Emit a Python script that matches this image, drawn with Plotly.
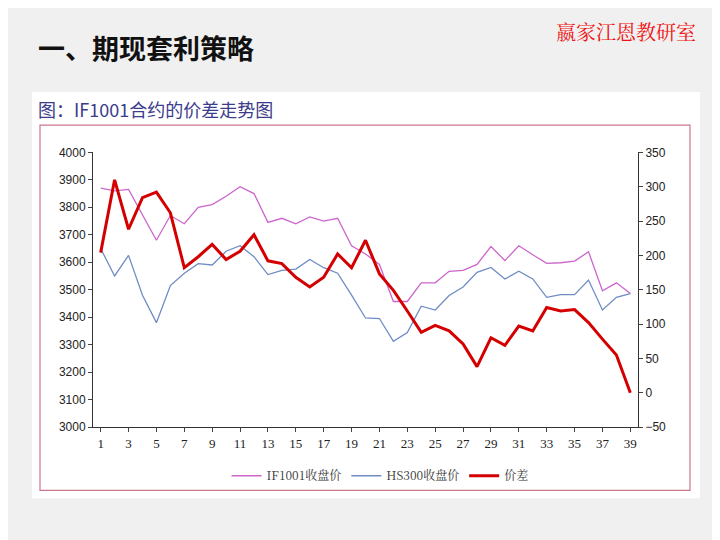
import plotly.graph_objects as go

days = list(range(1, 40))
if1001 = [3870, 3860, 3865, 3770, 3680, 3770, 3740, 3800, 3810, 3840, 3875, 3850, 3745,
          3760, 3740, 3765, 3750, 3760, 3660, 3630, 3592, 3457, 3457, 3525, 3525, 3567,
          3570, 3592, 3657, 3606, 3660, 3627, 3596, 3598, 3604, 3638, 3496, 3525, 3486]
hs300 = [3650, 3550, 3625, 3480, 3380, 3515, 3560, 3595, 3590, 3640, 3660, 3620, 3555,
         3570, 3575, 3610, 3580, 3560, 3480, 3397, 3395, 3312, 3344, 3440, 3426, 3479,
         3510, 3563, 3581, 3539, 3567, 3539, 3472, 3482, 3482, 3535, 3426, 3472, 3486]
spread = [204, 310, 238, 284, 292, 262, 182, 198, 216, 194, 206, 230, 192, 188, 168, 154,
          168, 202, 182, 222, 173, 149, 119, 88, 98, 90, 71, 38, 80, 69, 97, 90, 124, 119,
          121, 102, 78, 55, 0]

W, H = 720, 540
# page body has an 8px margin, so shift everything up/left
def px(x): return (x - 8) / W
def py(y): return 1 - (y - 9) / H

fig = go.Figure()
fig.add_trace(go.Scatter(x=days, y=if1001, mode='lines', name='IF1001收盘价',
                         line=dict(color='#cc66cc', width=1.3)))
fig.add_trace(go.Scatter(x=days, y=hs300, mode='lines', name='HS300收盘价',
                         line=dict(color='#6f8cc4', width=1.3)))
fig.add_trace(go.Scatter(x=days, y=spread, mode='lines', name='价差', yaxis='y2',
                         line=dict(color='#d40000', width=3)))

tickfont = dict(family='Liberation Sans, Arial', size=12, color='#222')
fig.update_layout(
    width=W, height=H, margin=dict(l=0, r=0, t=0, b=0),
    paper_bgcolor='#f0f0f0', plot_bgcolor='white', showlegend=True,
    legend=dict(orientation='h', x=px(380), y=py(482), xanchor='center', yanchor='middle',
                bgcolor='rgba(0,0,0,0)',
                font=dict(family='Noto Serif CJK SC, Liberation Serif, serif', size=12, color='#333')),
    xaxis=dict(domain=[px(93), px(638)], range=[0.45, 39.55], tickvals=list(range(1, 40, 2)),
               showgrid=False, zeroline=False, showline=True, linecolor='#333',
               ticks='outside', ticklen=4, tickfont=dict(family='Liberation Serif, serif', size=13, color='#222')),
    yaxis=dict(domain=[py(432), py(150)], range=[3000, 4000], dtick=100, showgrid=False,
               zeroline=False, showline=True, linecolor='#333', ticks='outside', ticklen=4,
               tickfont=tickfont),
    yaxis2=dict(overlaying='y', side='right', range=[-50, 350], dtick=50, showgrid=False,
                zeroline=False, showline=True, linecolor='#333', ticks='outside', ticklen=4,
                tickfont=tickfont),
    shapes=[
        dict(type='rect', xref='paper', yref='paper', x0=px(32), x1=px(700), y0=py(505), y1=py(88),
             fillcolor='white', line=dict(width=0), layer='below'),
        dict(type='rect', xref='paper', yref='paper', x0=px(40), x1=px(690), y0=py(497), y1=py(122),
             fillcolor='rgba(0,0,0,0)', line=dict(color='#c9788a', width=1.2), layer='below'),
    ],
    annotations=[
        dict(text='<b>一、期现套利策略</b>', xref='paper', yref='paper', x=px(36), y=py(42),
             xanchor='left', yanchor='middle', showarrow=False,
             font=dict(family='Noto Sans CJK SC', size=27, color='#111')),
        dict(text='嬴家江恩教研室', xref='paper', yref='paper', x=px(698), y=py(26),
             xanchor='right', yanchor='middle', showarrow=False,
             font=dict(family='Noto Serif CJK SC, Noto Sans CJK SC, serif', size=20, color='#ee1111')),
        dict(text='图：IF1001合约的价差走势图', xref='paper', yref='paper', x=px(36), y=py(106),
             xanchor='left', yanchor='middle', showarrow=False,
             font=dict(family='Noto Sans CJK SC', size=18, color='#3c3c8c')),
    ],
)

fig.write_html('out.html')
